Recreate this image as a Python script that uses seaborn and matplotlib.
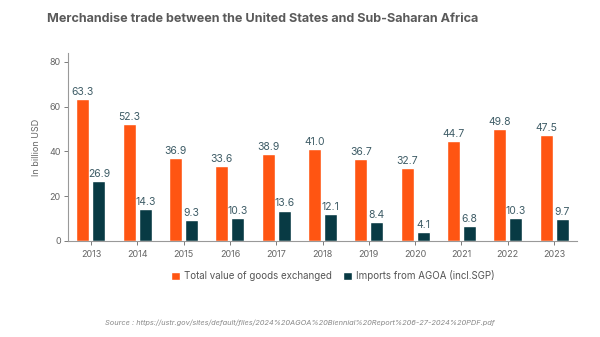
import matplotlib
matplotlib.use("Agg")
import matplotlib.pyplot as plt
import seaborn as sns
import pandas as pd

years = ["2013", "2014", "2015", "2016", "2017", "2018", "2019", "2020", "2021", "2022", "2023"]
total_value = [63.3, 52.3, 36.9, 33.6, 38.9, 41.0, 36.7, 32.7, 44.7, 49.8, 47.5]
agoa_imports = [26.9, 14.3, 9.3, 10.3, 13.6, 12.1, 8.4, 4.1, 6.8, 10.3, 9.7]
series_names = ["Total value of goods exchanged", "Imports from AGOA (incl.SGP)"]
y_ticks = [0, 20, 40, 60, 80]

df = pd.DataFrame({
    "year": years * 2,
    "value": total_value + agoa_imports,
    "series": [series_names[0]] * len(years) + [series_names[1]] * len(years),
})

sns.set_theme(style="white")
plt.rcParams["font.family"] = ["Inter", "DejaVu Sans"]

fig = plt.figure(figsize=(6, 3.37), dpi=100)
ax = fig.add_axes([0.113, 0.285, 0.849, 0.558])

palette = {series_names[0]: "#FF5512", series_names[1]: "#083A44"}
sns.barplot(data=df, x="year", y="value", hue="series", palette=palette,
            width=0.69, gap=0.19, ax=ax, legend=True, saturation=1)

for cont in ax.containers:
    ax.bar_label(cont, fmt="%.1f", padding=1.5, fontsize=7.5, color="#3E5C66")

ax.set_ylim(0, 84)
ax.set_xlim(-0.5, len(years) - 0.5)
ax.set_yticks(y_ticks)
ax.set_xlabel("")
ax.set_ylabel("In billion USD", fontsize=6.5, color="#666666", labelpad=6)
ax.tick_params(axis="both", labelsize=6.5, colors="#666666", length=3, width=0.6,
               bottom=True, left=True)
ax.tick_params(axis="y", pad=2)
for s in ["top", "right"]:
    ax.spines[s].set_visible(False)
for s in ["left", "bottom"]:
    ax.spines[s].set_color("#999999")
    ax.spines[s].set_linewidth(0.8)

leg = ax.legend(loc="upper center", bbox_to_anchor=(0.52, -0.11), ncol=2, frameon=False,
                fontsize=7, handlelength=0.9, handleheight=0.9, handletextpad=0.4,
                columnspacing=1.2)
for t in leg.get_texts():
    t.set_color("#555555")

fig.text(0.437, 0.945, "Merchandise trade between the United States and Sub-Saharan Africa",
         ha="center", va="center", fontsize=9.1, fontweight="bold", color="#5a5a5a")
fig.text(0.175, 0.043,
         "Source : https://ustr.gov/sites/default/files/2024%20AGOA%20Biennial%20Report%206-27-2024%20PDF.pdf",
         ha="left", va="center", fontsize=5.35, style="italic", color="#888888")

fig.savefig("out.png", dpi=100, facecolor="white")
